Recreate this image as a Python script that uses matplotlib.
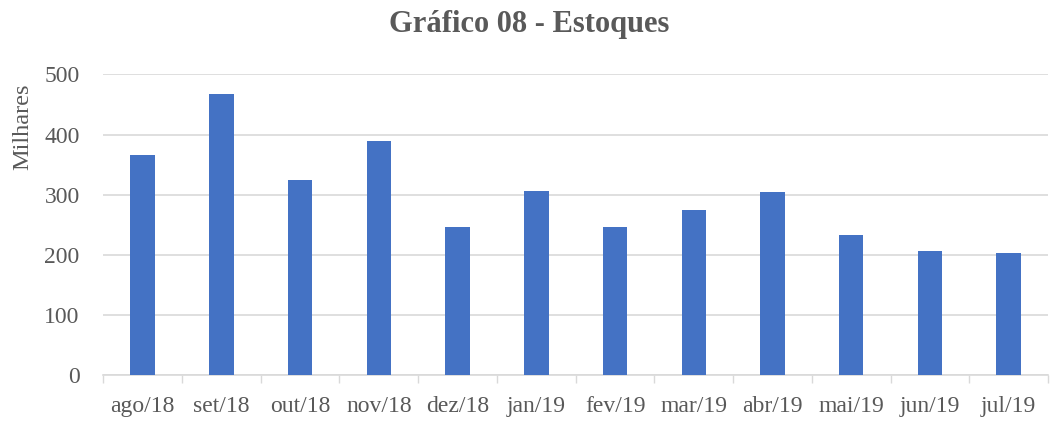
import matplotlib
matplotlib.use("Agg")
import matplotlib.pyplot as plt

categories = ["ago/18", "set/18", "out/18", "nov/18", "dez/18", "jan/19",
              "fev/19", "mar/19", "abr/19", "mai/19", "jun/19", "jul/19"]
values = [366, 467, 324, 390, 246, 306, 247, 275, 304, 233, 206, 203]
yticks = [0, 100, 200, 300, 400, 500]

plt.rcParams['font.family'] = ['Liberation Serif', 'DejaVu Serif']
grey = "#595959"

fig = plt.figure(figsize=(10.53, 4.23), dpi=100)
ax = fig.add_axes([0.0981, 0.1128, 0.8972, 0.7115])
x = list(range(len(categories)))
ax.bar(x, values, width=0.31, color="#4472C4", zorder=3)
ax.set_xlim(-0.5, len(categories) - 0.5)
ax.set_ylim(0, 500)
ax.set_yticks(yticks)
ax.set_yticklabels([str(v) for v in yticks], color=grey, fontsize=17)
ax.set_xticks([i - 0.5 for i in range(len(categories) + 1)], minor=False)
ax.set_xticklabels([])
ax.set_xticks(x, minor=True)
ax.set_xticklabels(categories, minor=True, color=grey, fontsize=17)
ax.tick_params(axis='x', which='major', length=6, color="#D9D9D9", width=1)
ax.tick_params(axis='x', which='minor', length=0, pad=15)
ax.tick_params(axis='y', length=0, pad=17)
ax.grid(axis='y', color="#D9D9D9", linewidth=1.2, zorder=0)
for s in ["top", "right", "left"]:
    ax.spines[s].set_visible(False)
ax.spines["bottom"].set_color("#D9D9D9")
ax.spines["bottom"].set_linewidth(1.2)

fig.text(0.503, 0.941, "Gráfico 08 - Estoques", ha="center", va="center",
         fontsize=22, fontweight="bold", color=grey)
fig.text(0.022, 0.70, "Milhares", rotation=90, ha="center", va="center",
         fontsize=17.5, color=grey)
fig.savefig("out.png", dpi=100)
